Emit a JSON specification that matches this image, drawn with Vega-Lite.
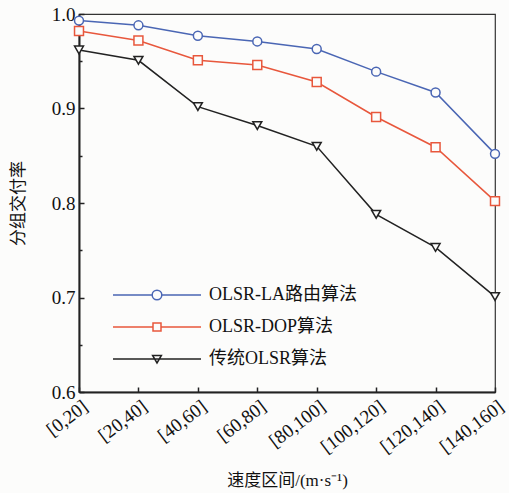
{
  "$schema": "https://vega.github.io/schema/vega-lite/v6.json",
  "width": 416,
  "height": 378,
  "autosize": "none",
  "padding": {"left": 79, "top": 14, "right": 14, "bottom": 101},
  "background": "#fcfcfb",
  "config": {
    "font": "'Liberation Serif', 'Times New Roman', 'Noto Sans CJK SC', serif",
    "view": {"stroke": "#333333", "strokeWidth": 1.2},
    "axis": {
      "domainColor": "#222222",
      "domainWidth": 2,
      "tickColor": "#222222",
      "tickWidth": 1.5,
      "labelColor": "#111111",
      "titleColor": "#111111",
      "labelFont": "'Liberation Serif', 'Times New Roman', serif",
      "labelFontSize": 19,
      "titleFont": "'Liberation Serif', 'Noto Sans CJK SC', serif",
      "titleFontSize": 17,
      "titleFontWeight": "normal",
      "grid": false
    }
  },
  "data": {
    "values": [
      {"speed": "[0,20]", "algo": "OLSR-LA路由算法", "pdr": 0.993},
      {"speed": "[20,40]", "algo": "OLSR-LA路由算法", "pdr": 0.988},
      {"speed": "[40,60]", "algo": "OLSR-LA路由算法", "pdr": 0.977},
      {"speed": "[60,80]", "algo": "OLSR-LA路由算法", "pdr": 0.971},
      {"speed": "[80,100]", "algo": "OLSR-LA路由算法", "pdr": 0.963},
      {"speed": "[100,120]", "algo": "OLSR-LA路由算法", "pdr": 0.939},
      {"speed": "[120,140]", "algo": "OLSR-LA路由算法", "pdr": 0.917},
      {"speed": "[140,160]", "algo": "OLSR-LA路由算法", "pdr": 0.852},
      {"speed": "[0,20]", "algo": "OLSR-DOP算法", "pdr": 0.982},
      {"speed": "[20,40]", "algo": "OLSR-DOP算法", "pdr": 0.972},
      {"speed": "[40,60]", "algo": "OLSR-DOP算法", "pdr": 0.951},
      {"speed": "[60,80]", "algo": "OLSR-DOP算法", "pdr": 0.946},
      {"speed": "[80,100]", "algo": "OLSR-DOP算法", "pdr": 0.928},
      {"speed": "[100,120]", "algo": "OLSR-DOP算法", "pdr": 0.891},
      {"speed": "[120,140]", "algo": "OLSR-DOP算法", "pdr": 0.859},
      {"speed": "[140,160]", "algo": "OLSR-DOP算法", "pdr": 0.802},
      {"speed": "[0,20]", "algo": "传统OLSR算法", "pdr": 0.962},
      {"speed": "[20,40]", "algo": "传统OLSR算法", "pdr": 0.951},
      {"speed": "[40,60]", "algo": "传统OLSR算法", "pdr": 0.902},
      {"speed": "[60,80]", "algo": "传统OLSR算法", "pdr": 0.882},
      {"speed": "[80,100]", "algo": "传统OLSR算法", "pdr": 0.860},
      {"speed": "[100,120]", "algo": "传统OLSR算法", "pdr": 0.788},
      {"speed": "[120,140]", "algo": "传统OLSR算法", "pdr": 0.753},
      {"speed": "[140,160]", "algo": "传统OLSR算法", "pdr": 0.701}
    ]
  },
  "encoding": {
    "x": {
      "field": "speed",
      "type": "ordinal",
      "sort": null,
      "scale": {"type": "point", "padding": 0},
      "axis": {
        "title": "速度区间/(m·s⁻¹)",
        "titlePadding": 16,
        "labelAngle": -37,
        "labelAlign": "right",
        "labelBaseline": "middle",
        "labelPadding": 17,
        "labelOffset": 6,
        "tickSize": -5
      }
    },
    "y": {
      "field": "pdr",
      "type": "quantitative",
      "scale": {"domain": [0.6, 1.0], "nice": false, "zero": false},
      "axis": {
        "title": "分组交付率",
        "titleFont": "'Noto Sans CJK SC'",
        "titlePadding": 24,
        "values": [0.6, 0.65, 0.7, 0.75, 0.8, 0.85, 0.9, 0.95, 1.0],
        "labelExpr": "(round(datum.value * 100) % 10 == 0) ? format(datum.value, '.1f') : ''",
        "tickSize": {"condition": {"test": "round(datum.value * 100) % 10 == 0", "value": -5}, "value": -3},
        "labelPadding": 9
      }
    }
  },
  "layer": [
    {
      "mark": {"type": "line", "strokeWidth": 1.5},
      "encoding": {"color": {"field": "algo", "type": "nominal", "legend": null,
        "scale": {"domain": ["OLSR-LA路由算法", "OLSR-DOP算法", "传统OLSR算法"], "range": ["#4a66b4", "#e8573c", "#222222"]}}}
    },
    {
      "mark": {"type": "point", "filled": true, "fill": "#fcfcfb", "size": 80, "strokeWidth": 1.5, "opacity": 1},
      "encoding": {
        "stroke": {"field": "algo", "type": "nominal", "legend": null,
          "scale": {"domain": ["OLSR-LA路由算法", "OLSR-DOP算法", "传统OLSR算法"], "range": ["#4a66b4", "#e8573c", "#222222"]}},
        "shape": {"field": "algo", "type": "nominal", "legend": null,
          "scale": {"domain": ["OLSR-LA路由算法", "OLSR-DOP算法", "传统OLSR算法"], "range": ["circle", "square", "triangle-down"]}}
      }
    },
    {
      "mark": {"type": "point", "filled": false, "opacity": 0, "size": 64, "strokeWidth": 1.5},
      "encoding": {
        "color": {"field": "algo", "type": "nominal",
          "scale": {"domain": ["OLSR-LA路由算法", "OLSR-DOP算法", "传统OLSR算法"], "range": ["#4a66b4", "#e8573c", "#222222"]},
          "legend": {
            "title": null,
            "orient": "none",
            "legendX": 69,
            "legendY": 272,
            "padding": 0,
            "symbolOpacity": 1,
            "symbolSize": 64,
            "symbolStrokeWidth": 1.5,
            "symbolFillColor": "transparent",
            "labelOffset": 43,
            "labelFont": "'Liberation Serif', 'Noto Sans CJK SC', serif",
            "labelFontSize": 18,
            "labelColor": "#111111",
            "labelLimit": 300,
            "rowPadding": 14
          }
        },
        "shape": {"field": "algo", "type": "nominal",
          "scale": {
            "domain": ["OLSR-LA路由算法", "OLSR-DOP算法", "传统OLSR算法"],
            "range": [
              "M-11,0H-1.2M1.2,0H11M-1.2,0A1.2,1.2,0,1,0,1.2,0A1.2,1.2,0,1,0,-1.2,0Z",
              "M-11,0H-1M1,0H11M-1,-1H1V1H-1Z",
              "M-11,0H11M-1.1,-0.9H1.1L0,1Z"
            ]
          },
          "legend": {
            "title": null,
            "orient": "none",
            "legendX": 69,
            "legendY": 272,
            "padding": 0,
            "symbolOpacity": 1,
            "symbolSize": 64,
            "symbolStrokeWidth": 1.5,
            "symbolFillColor": "transparent",
            "labelOffset": 43,
            "labelFont": "'Liberation Serif', 'Noto Sans CJK SC', serif",
            "labelFontSize": 18,
            "labelColor": "#111111",
            "labelLimit": 300,
            "rowPadding": 14
          }
        }
      }
    }
  ],
  "resolve": {"scale": {"color": "independent", "shape": "independent", "stroke": "independent"}}
}
